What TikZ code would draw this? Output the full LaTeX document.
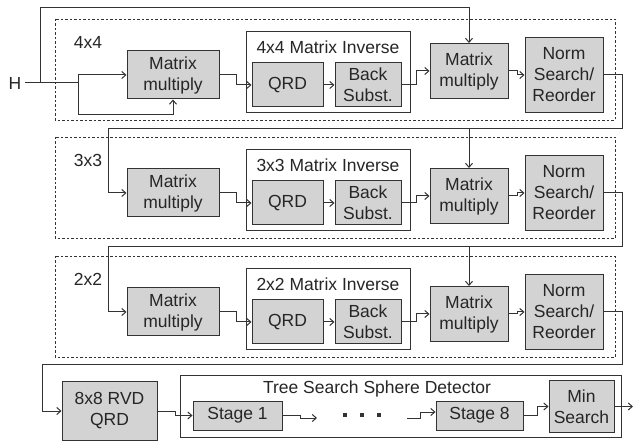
\documentclass[tikz,border=0pt]{standalone}
\usepackage{fontspec}
\setmainfont{Liberation Sans}
\usetikzlibrary{arrows.meta,positioning}
\definecolor{blk-fill}{HTML}{D3D3D3}
\definecolor{blk-line}{HTML}{333333}

\begin{document}
\begin{tikzpicture}[x=1pt, y=-1pt, line width=1pt, color=blk-line, text=black!85,
    font=\fontsize{17.5}{21}\selectfont,
    blk/.style={draw, fill=blk-fill, align=center, inner sep=0pt},
    grp/.style={draw, fill=white},
    sect/.style={draw, line width=0.7pt, dash pattern=on 2.5pt off 2pt},
    arr/.style={-{Straight Barb[length=4pt,width=7pt]}}]
    \useasboundingbox (0,0) rectangle (633,441);

    % the three inversion stages
    \foreach \s/\b/\m in {4/75/-4, 3/193/3, 2/312/2} {
        \draw[sect] (55,\b-56) rectangle (615,\b+45);
        \node (lab\s) at (88,\b-33) {\s x\s};
        \draw[grp] (246,\b-43) rectangle (410,\b+38);
        \node (inv\s) at (328,\b-28) {\s x\s\ Matrix Inverse};
        \node[blk, minimum width=92, minimum height=48] (mm\s) at (173,\b) {Matrix\\multiply};
        \node[blk, minimum width=71, minimum height=44] (qrd\s) at (287.5,\b+10) {QRD};
        \node[blk, minimum width=66, minimum height=44] (bs\s) at (368,\b+10) {Back\\Subst.};
        \node[blk, minimum width=78, minimum height=55] (mmb\s) at (469,\b+\m) {Matrix\\multiply};
        \node[blk, minimum width=78, minimum height=75] (nrm\s) at (564,\b) {Norm\\Search/\\Reorder};
        \draw[arr] (mm\s.east) -- ++(17,0) |- (qrd\s.west);
        \draw[arr] (qrd\s) -- (bs\s);
        \draw[arr] (bs\s.east) -- ++(15,0) |- (mmb\s.west);
        \draw[arr] (mmb\s.east) -- ++(9,0) |- (nrm\s.west);
    }

    % input H
    \node (h) at (15,83) {H};
    \coordinate (hs) at (40,83);
    \coordinate (hb) at (78,83);
    \draw (h) -- (hb);
    \draw[arr] (hb) |- (mm4.west);
    \draw[arr] (hb) -- ++(0,32) -| (mm4.south);
    \draw[arr] (hs) |- ([yshift=35pt]mmb4.north) -- (mmb4.north);

    % feedback between stages
    \coordinate (t4) at (622,129);
    \coordinate (t3) at (622,247);
    \coordinate (t2) at (622,365);
    \draw[arr] (nrm4.east) -| (t4) -| (mmb3.north);
    \draw[arr] (t4) -| ([xshift=-18pt]mm3.west) -- (mm3.west);
    \draw[arr] (nrm3.east) -| (t3) -| (mmb2.north);
    \draw[arr] (t3) -| ([xshift=-18pt]mm2.west) -- (mm2.west);

    % sphere detector
    \node[blk, minimum width=95, minimum height=58] (rvd) at (109.5,411) {8x8 RVD\\QRD};
    \draw[grp] (180,376) rectangle (621,437);
    \node (tss) at (377,389) {Tree Search Sphere Detector};
    \node[blk, minimum width=89, minimum height=29] (st1) at (237.5,415.5) {Stage 1};
    \node[blk, minimum width=87, minimum height=29] (st8) at (479.5,415.5) {Stage 8};
    \node[blk, minimum width=65, minimum height=51] (ms) at (581.5,406.5) {Min\\Search};
    \draw[arr] (nrm2.east) -| (t2) -| ([xshift=-19pt]rvd.west) -- (rvd.west);
    \draw[arr] (rvd.east) -- ++(18,0) |- (st1.west);
    \coordinate (d0) at (317,418);
    \coordinate (d9) at (407,418);
    \draw[arr] (st1.east) -- ++(18,0) |- (d0);
    \foreach \x in {345,362,379}
        \fill (\x-2,413) rectangle ++(4,4);
    \draw[arr] (d9) -- ++(13,0) |- ([yshift=3.5pt]st8.west);
    \draw[arr] (st8.east) -- ++(14,0) |- (ms.west);
    \coordinate (out) at (633,406.5);
    \draw[arr] (ms.east) -- (out);
\end{tikzpicture}
\end{document}
